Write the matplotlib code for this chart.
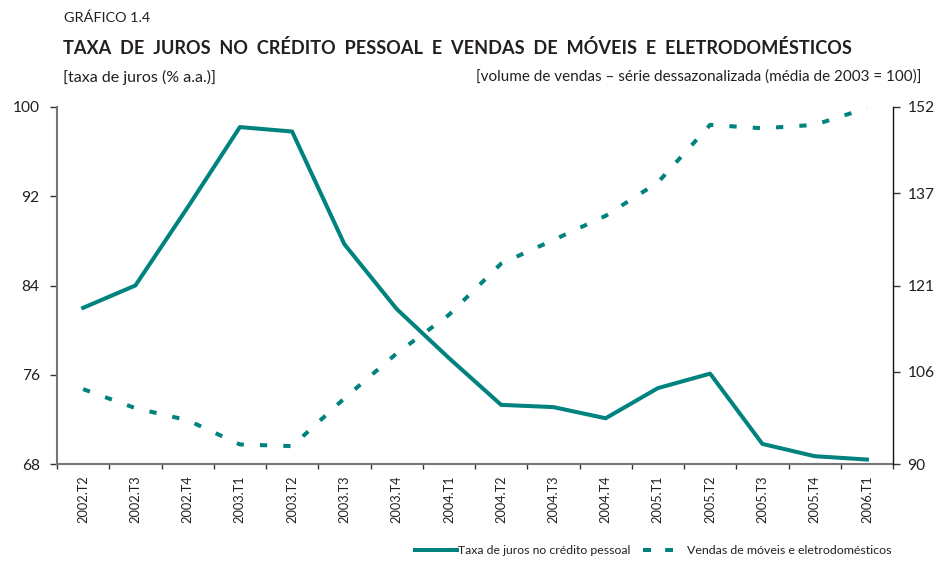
import matplotlib
matplotlib.use("Agg")
import matplotlib.pyplot as plt
from matplotlib.lines import Line2D
import numpy as np

categories = ["2002.T2", "2002.T3", "2002.T4", "2003.T1", "2003.T2", "2003.T3",
              "2003.T4", "2004.T1", "2004.T2", "2004.T3", "2004.T4", "2005.T1",
              "2005.T2", "2005.T3", "2005.T4", "2006.T1"]
taxa_juros = [82.0, 84.0, 91.0, 98.2, 97.8, 87.7, 81.9, 77.5, 73.3, 73.1,
              72.1, 74.8, 76.1, 69.8, 68.7, 68.4]
vendas = [103.0, 99.7, 97.6, 93.4, 93.1, 101.4, 109.2, 115.9, 124.8, 128.9,
          133.1, 138.9, 148.9, 148.3, 148.9, 151.8]
left_ticks = [68, 76, 84, 92, 100]
right_ticks = [90, 106, 121, 137, 152]

TEAL = "#00827E"
TXT = "#231F20"
plt.rcParams['font.family'] = ["Lato", "DejaVu Sans"]

fig = plt.figure(figsize=(9.39, 5.62), dpi=100)
W, H = 939, 562
renderer = fig.canvas.get_renderer()


def fit(t, width_px):
    """Scale a text's font size so its rendered width matches width_px."""
    for _ in range(3):
        w = t.get_window_extent(renderer).width
        t.set_fontsize(t.get_fontsize() * width_px / w)
    return t


def size_for(s, width_px, weight="normal"):
    t = fig.text(0, 0, s, fontsize=10, fontweight=weight)
    fit(t, width_px)
    fs = t.get_fontsize()
    t.remove()
    return fs


ax = fig.add_axes([57 / W, (H - 464) / H, (893 - 57) / W, (464 - 107) / H])
ax2 = ax.twinx()

x = np.arange(len(categories))
ax.plot(x, taxa_juros, color=TEAL, lw=2.9, zorder=3)
ln, = ax2.plot(x, vendas, color=TEAL, lw=2.9, dash_capstyle="butt")
ln.set_dashes([1.8, 4.0])

ax.set_xlim(-0.5, len(categories) - 0.5)
ax.set_ylim(68, 100)
ax2.set_ylim(90, 152)

ytick_fs = size_for("100", 27)
xtick_fs = size_for("2002.T2", 47)

ax.set_yticks(left_ticks)
ax2.set_yticks(right_ticks)
ax.set_yticklabels([str(v) for v in left_ticks], fontsize=ytick_fs, color=TXT)
ax2.set_yticklabels([str(v) for v in right_ticks], fontsize=ytick_fs, color=TXT)

ax.set_xticks(np.arange(len(categories) + 1) - 0.5)
ax.set_xticklabels([])
ax.set_xticks(x, minor=True)
ax.set_xticklabels(categories, minor=True, rotation=90, fontsize=xtick_fs, color=TXT)
ax.tick_params(axis="x", which="minor", length=0, pad=8)
ax.tick_params(axis="x", which="major", length=3.6, width=1, color="#333333")
ax.tick_params(axis="y", length=5, width=1, color="#333333", pad=7.5)
ax2.tick_params(axis="y", length=5, width=1, color="#333333", pad=5.5)

for a in (ax, ax2):
    a.spines["top"].set_visible(False)
ax.spines["left"].set_color("#777777")
ax.spines["left"].set_linewidth(1.5)
ax.spines["bottom"].set_color("#777777")
ax.spines["bottom"].set_linewidth(1.5)
ax2.spines["left"].set_visible(False)
ax2.spines["bottom"].set_visible(False)
ax2.spines["right"].set_color("#111111")
ax2.spines["right"].set_linewidth(1.0)
ax.spines["right"].set_visible(False)

# Titles
t1 = fig.text(64 / W, 1 - 18 / H, "GRÁFICO 1.4", fontsize=10, va="center", ha="left", color=TXT)
fit(t1, 86)
t2 = fig.text(63 / W, 1 - 48 / H, "TAXA  DE  JUROS  NO  CRÉDITO  PESSOAL  E  VENDAS  DE  MÓVEIS  E  ELETRODOMÉSTICOS",
              fontsize=14, fontweight="bold", va="center", ha="left", color=TXT)
fit(t2, 790)
t3 = fig.text(63 / W, 1 - 77 / H, "[taxa de juros (% a.a.)]", fontsize=12, va="center", ha="left", color=TXT)
fit(t3, 153)
t4 = fig.text(921 / W, 1 - 77 / H, "[volume de vendas – série dessazonalizada (média de 2003 = 100)]",
              fontsize=12, va="center", ha="right", color=TXT)
fit(t4, 445)

# Legend
ly = 1 - 550 / H
fig.add_artist(Line2D([415 / W, 457 / W], [ly, ly], color=TEAL, lw=2.9, transform=fig.transFigure))
l1 = fig.text(458 / W, ly, "Taxa de juros no crédito pessoal", fontsize=9, va="center", ha="left", color=TXT)
fit(l1, 172)
dl = Line2D([643 / W, 673 / W], [ly, ly], color=TEAL, lw=2.9, transform=fig.transFigure,
            dash_capstyle="butt")
dl.set_dashes([2.0, 3.5])
fig.add_artist(dl)
l2 = fig.text(687 / W, ly, "Vendas de móveis e eletrodomésticos", fontsize=9, va="center", ha="left", color=TXT)
fit(l2, 205)

fig.savefig("out.png", dpi=100)
